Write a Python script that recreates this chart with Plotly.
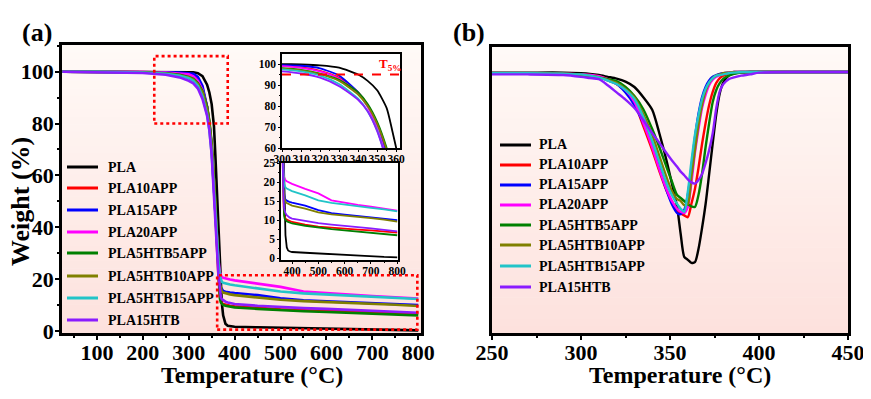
import plotly.graph_objects as go

W, H = 871, 399

# ---------------- data ----------------
series_names = ["PLA", "PLA10APP", "PLA15APP", "PLA20APP",
                "PLA5HTB5APP", "PLA5HTB10APP", "PLA5HTB15APP", "PLA15HTB"]
series_colors = ["#000000", "#ff0000", "#0000ff", "#ff00ff",
                 "#008000", "#808000", "#22c4c8", "#8a1cff"]

# TGA: temperature (°C) and weight (%)
T_tga = [25, 100, 200, 250, 280, 300, 310, 320, 330, 340, 345, 350, 355, 358, 360, 362,
         365, 368, 370, 372, 375, 380, 385, 390, 400, 450, 500, 550, 600, 650, 700, 750, 800]
w_PLA = [100, 100, 100, 100, 100, 100, 99.8, 99.4, 98.3, 95, 92, 87.5, 79, 68, 60, 52,
         38, 25, 17, 11, 6, 2.8, 2.0, 1.8, 1.6, 1.4, 1.2, 1.0, 0.8, 0.6, 0.4, 0.3, 0.2]
w_PLA10APP = [100, 100, 99.9, 99.7, 99.4, 99, 98.4, 96.8, 93.5, 86.5, 80.5, 71.5, 57.5, 46, 38, 30,
              20, 13.5, 11.5, 10.8, 10.4, 10.1, 9.9, 9.7, 9.5, 8.8, 8.3, 8.0, 7.7, 7.5, 7.3, 7.0, 6.7]
w_PLA15APP = [100, 100, 99.9, 99.8, 99.7, 99.5, 99.2, 98, 94.5, 86.5, 80, 70.5, 57, 47, 40, 33,
              24, 18.5, 16.8, 16, 15.4, 15.1, 14.9, 14.8, 14.6, 13.8, 12.6, 11.8, 11.4, 11.0, 10.7, 10.3, 10.0]
w_PLA20APP = [100, 100, 99.9, 99.7, 99.4, 99, 98.2, 96.5, 93, 86, 79.5, 70, 55, 46, 40, 34,
              27, 22.5, 21.3, 20.8, 20.5, 20.2, 20.0, 19.8, 19.5, 18.2, 17.0, 15.2, 14.5, 14.0, 13.5, 13.0, 12.5]
w_PLA5HTB5APP = [100, 100, 99.8, 99.4, 98.8, 98, 97.2, 95.5, 92.5, 86.5, 81, 72.5, 60, 50, 42, 33,
                 20, 12.5, 11, 10.4, 10, 9.7, 9.5, 9.3, 9.1, 8.5, 8.0, 7.6, 7.3, 7.0, 6.7, 6.3, 6.0]
w_PLA5HTB10APP = [100, 100, 99.8, 99.3, 98.6, 97.8, 97, 95.2, 92, 85.5, 80, 71.5, 59, 49, 41, 33,
                  24, 18, 16, 15.2, 14.8, 14.5, 14.3, 14.1, 13.8, 13.0, 12.0, 11.5, 11.2, 10.9, 10.5, 10.1, 9.6]
w_PLA5HTB15APP = [100, 100, 99.7, 99.2, 98.4, 97.5, 96.5, 94.5, 90.5, 83.5, 77.5, 68.5, 54, 45, 39, 33,
                  26, 21, 19.5, 19, 18.6, 18.3, 18.1, 17.9, 17.6, 16.5, 15.2, 14.5, 14.0, 13.6, 13.2, 12.8, 12.3]
w_PLA15HTB = [100, 99.9, 99.5, 98.8, 97.8, 96.5, 95.5, 93.5, 89.5, 83, 77.5, 68, 54, 44, 37, 30,
              21, 15, 13, 12.3, 11.8, 11.3, 11, 10.7, 10.4, 9.7, 9.2, 8.8, 8.5, 8.2, 7.8, 7.4, 7.0]
tga_values = [w_PLA, w_PLA10APP, w_PLA15APP, w_PLA20APP,
              w_PLA5HTB5APP, w_PLA5HTB10APP, w_PLA5HTB15APP, w_PLA15HTB]

# DTG: temperature (°C) and derivative weight (arb. units)
T_dtg = [250, 270, 290, 300, 305, 310, 315, 320, 325, 330, 335, 340, 344, 348, 351, 354, 356, 358,
         360, 362, 364, 366, 368, 370, 372, 374, 376, 378, 380, 383, 386, 390, 395, 400, 420, 450]
d_PLA = [-0.01, -0.01, -0.01, -0.02, -0.03, -0.05, -0.08, -0.11, -0.16, -0.25, -0.42, -0.63, -1.02, -1.47, -1.85, -2.25, -2.7, -3.08,
         -3.13, -3.18, -3.17, -2.95, -2.6, -2.2, -1.7, -1.19, -0.7, -0.35, -0.17, -0.06, -0.02, -0.01, 0, 0, 0, 0]
d_PLA10APP = [-0.02, -0.02, -0.03, -0.04, -0.05, -0.07, -0.12, -0.2, -0.32, -0.52, -0.9, -1.3, -1.65, -1.97, -2.15, -2.3, -2.36, -2.39,
              -2.42, -2.2, -1.95, -1.6, -1.2, -0.85, -0.55, -0.33, -0.18, -0.1, -0.06, -0.03, -0.01, 0, 0, 0, 0, 0]
d_PLA15APP = [-0.02, -0.02, -0.03, -0.05, -0.06, -0.08, -0.14, -0.2, -0.34, -0.55, -0.85, -1.2, -1.6, -1.97, -2.2, -2.35, -2.37, -2.3,
              -2.05, -1.6, -1.1, -0.7, -0.42, -0.25, -0.14, -0.08, -0.05, -0.03, -0.02, -0.01, 0, 0, 0, 0, 0, 0]
d_PLA20APP = [-0.02, -0.02, -0.03, -0.04, -0.05, -0.07, -0.12, -0.19, -0.3, -0.5, -0.85, -1.25, -1.62, -1.95, -2.15, -2.28, -2.33, -2.35,
              -2.25, -1.85, -1.35, -0.95, -0.6, -0.38, -0.22, -0.13, -0.08, -0.05, -0.03, -0.01, 0, 0, 0, 0, 0, 0]
d_PLA5HTB5APP = [-0.02, -0.02, -0.03, -0.05, -0.07, -0.09, -0.12, -0.15, -0.25, -0.4, -0.62, -0.95, -1.25, -1.58, -1.82, -2.05, -2.1, -2.15,
                 -2.2, -2.24, -2.25, -2.05, -1.7, -1.25, -0.85, -0.5, -0.3, -0.18, -0.11, -0.06, -0.03, -0.01, 0, 0, 0, 0]
d_PLA5HTB10APP = [-0.02, -0.02, -0.03, -0.05, -0.07, -0.09, -0.13, -0.18, -0.28, -0.42, -0.7, -1.05, -1.4, -1.75, -1.98, -2.12, -2.15, -2.22,
                  -2.2, -1.75, -1.3, -0.88, -0.55, -0.32, -0.18, -0.1, -0.06, -0.04, -0.02, -0.01, 0, 0, 0, 0, 0, 0]
d_PLA5HTB15APP = [-0.02, -0.02, -0.03, -0.04, -0.06, -0.09, -0.14, -0.2, -0.3, -0.45, -0.75, -1.15, -1.5, -1.85, -2.05, -2.2, -2.28, -2.33,
                  -2.0, -1.5, -1.05, -0.72, -0.45, -0.28, -0.17, -0.1, -0.06, -0.05, -0.04, -0.02, -0.01, 0, 0, 0, 0, 0]
d_PLA15HTB = [-0.04, -0.04, -0.05, -0.08, -0.1, -0.12, -0.22, -0.34, -0.46, -0.6, -0.8, -1.02, -1.18, -1.35, -1.47, -1.58, -1.66, -1.72,
              -1.79, -1.84, -1.86, -1.8, -1.7, -1.52, -1.3, -1.02, -0.6, -0.32, -0.2, -0.12, -0.09, -0.06, -0.04, -0.01, 0, 0]
dtg_values = [d_PLA, d_PLA10APP, d_PLA15APP, d_PLA20APP,
              d_PLA5HTB5APP, d_PLA5HTB10APP, d_PLA5HTB15APP, d_PLA15HTB]

main_x_ticks = [100, 200, 300, 400, 500, 600, 700, 800]
main_y_ticks = [0, 20, 40, 60, 80, 100]
b_x_ticks = [250, 300, 350, 400, 450]

# ---------------- helpers ----------------
FONT = "Liberation Serif"
OX, OY = 8, 8  # page body margin offset


def px_x(p):
    return (p - OX) / W


def px_y(p):
    return 1 - (p - OY) / H


fig = go.Figure()

for name, col, vals in zip(series_names, series_colors, tga_values):
    fig.add_trace(go.Scatter(x=T_tga, y=vals, mode="lines", name=name,
                             line=dict(color=col, width=2.6), xaxis="x", yaxis="y",
                             showlegend=False))
for name, col, vals in zip(series_names, series_colors, tga_values):
    fig.add_trace(go.Scatter(x=T_tga, y=vals, mode="lines", name=name,
                             line=dict(color=col, width=1.8, shape="spline", smoothing=0.6),
                             xaxis="x2", yaxis="y2", showlegend=False))
for name, col, vals in zip(series_names, series_colors, tga_values):
    fig.add_trace(go.Scatter(x=T_tga, y=vals, mode="lines", name=name,
                             line=dict(color=col, width=1.8), xaxis="x3", yaxis="y3",
                             showlegend=False))
for name, col, vals in zip(series_names, series_colors, dtg_values):
    fig.add_trace(go.Scatter(x=T_dtg, y=vals, mode="lines", name=name,
                             line=dict(color=col, width=2.4, shape="spline", smoothing=0.7),
                             xaxis="x4", yaxis="y4", showlegend=False))

# ---------------- layout / axes ----------------
dom_a_x = [px_x(62), px_x(421)]
dom_a_y = [px_y(333), px_y(45)]
dom_i1_x = [px_x(282), px_x(400)]
dom_i1_y = [px_y(148), px_y(54)]
dom_i2_x = [px_x(281), px_x(398)]
dom_i2_y = [px_y(260), px_y(163)]
dom_b_x = [px_x(492), px_x(848)]
dom_b_y = [px_y(333), px_y(47)]

big_tick = dict(family=FONT, size=22, color="black", weight="bold")
small_tick = dict(family=FONT, size=11.5, color="black", weight="bold")

common_main = dict(showline=True, linecolor="black", linewidth=2.6, mirror=True,
                   ticks="outside", ticklen=4, tickwidth=2, tickcolor="black",
                   showgrid=False, zeroline=False, tickfont=big_tick, automargin=False,
                   tickangle=0)
common_inset = dict(showline=True, linecolor="black", linewidth=1.6, mirror=True,
                    ticks="outside", ticklen=2, tickwidth=1.3, tickcolor="black",
                    showgrid=False, zeroline=False, tickfont=small_tick, automargin=False,
                    tickangle=0)

fig.update_layout(
    width=W, height=H, margin=dict(l=0, r=0, t=0, b=0, pad=0, autoexpand=False),
    paper_bgcolor="white", plot_bgcolor="rgba(0,0,0,0)",
    xaxis=dict(domain=dom_a_x, anchor="y", range=[24, 806], tickvals=main_x_ticks,
               ticklabelstandoff=-6,
               minor=dict(ticks="outside", ticklen=2, tickwidth=1.5, dtick=50, tick0=0),
               **common_main),
    yaxis=dict(domain=dom_a_y, anchor="x", range=[-0.8, 110.3], tickvals=main_y_ticks,
               ticklabelstandoff=-3,
               minor=dict(ticks="outside", ticklen=2, tickwidth=1.5, dtick=10, tick0=0),
               **common_main),
    xaxis2=dict(domain=dom_i1_x, anchor="y2", range=[300, 362], dtick=10, tick0=300,
                ticklabelstandoff=-3,
                minor=dict(ticks="outside", ticklen=1.5, tickwidth=1, dtick=5, tick0=300),
                **common_inset),
    yaxis2=dict(domain=dom_i1_y, anchor="x2", range=[60, 104.8], dtick=10, tick0=60,
                minor=dict(ticks="outside", ticklen=1.5, tickwidth=1, dtick=5, tick0=60),
                **common_inset),
    xaxis3=dict(domain=dom_i2_x, anchor="y3", range=[358, 803], dtick=100, tick0=400,
                ticklabelstandoff=-3,
                minor=dict(ticks="outside", ticklen=1.5, tickwidth=1, dtick=50, tick0=400),
                **common_inset),
    yaxis3=dict(domain=dom_i2_y, anchor="x3", range=[-0.5, 25], dtick=5, tick0=0,
                minor=dict(ticks="outside", ticklen=1.5, tickwidth=1, dtick=2.5, tick0=0),
                **common_inset),
    xaxis4=dict(domain=dom_b_x, anchor="y4", range=[250, 450], tickvals=b_x_ticks,
                ticklabelstandoff=-6,
                minor=dict(ticks="outside", ticklen=2, tickwidth=1.5, dtick=25, tick0=250),
                **common_main),
    yaxis4=dict(domain=dom_b_y, anchor="x4", range=[-4.35, 0.417], showticklabels=False,
                showline=True, linecolor="black", linewidth=2.6, mirror=True, ticks="",
                showgrid=False, zeroline=False, automargin=False),
)

# ---------------- background gradients ----------------
shapes = []
top_col = (255, 250, 247)
bot_col = (253, 225, 221)
N = 40
for (x0, x1, y0, y1) in [(62, 421, 45, 333), (492, 848, 47, 333)]:
    for i in range(N):
        t = (i + 0.5) / N
        c = tuple(int(round(top_col[k] + (bot_col[k] - top_col[k]) * t)) for k in range(3))
        ya = y0 + (y1 - y0) * i / N
        yb = y0 + (y1 - y0) * (i + 1) / N + 0.6
        shapes.append(dict(type="rect", xref="paper", yref="paper", layer="below",
                           x0=px_x(x0), x1=px_x(x1), y0=px_y(min(yb, y1)), y1=px_y(ya),
                           line=dict(width=0), fillcolor="rgb(%d,%d,%d)" % c))
for (x0, x1, y0, y1) in [(282, 400, 54, 148), (281, 398, 163, 260)]:
    shapes.append(dict(type="rect", xref="paper", yref="paper", layer="below",
                       x0=px_x(x0), x1=px_x(x1), y0=px_y(y1), y1=px_y(y0),
                       line=dict(width=0), fillcolor="white"))

shapes.append(dict(type="rect", xref="x", yref="y", x0=225, x1=385, y0=80, y1=106,
                   line=dict(color="red", width=2.6, dash="dot")))
shapes.append(dict(type="rect", xref="x", yref="y", x0=362, x1=798, y0=0.5, y1=21.5,
                   line=dict(color="red", width=2.6, dash="dot")))
shapes.append(dict(type="line", xref="x2", yref="y2", x0=300, x1=362, y0=95, y1=95,
                   line=dict(color="red", width=2, dash="dash")))

annotations = []


def txt(text, x, y, size, color="black", xanchor="center", angle=0):
    annotations.append(dict(text=text, x=px_x(x), y=px_y(y), xref="paper", yref="paper",
                            showarrow=False, xanchor=xanchor, yanchor="middle",
                            textangle=angle,
                            font=dict(family=FONT, size=size, color=color, weight="bold")))


leg_a_y = [167, 188, 210, 232, 253, 276, 298, 320]
leg_b_y = [145, 165, 185, 205, 225, 245, 266, 287]
for name, col, ya, yb in zip(series_names, series_colors, leg_a_y, leg_b_y):
    shapes.append(dict(type="line", xref="paper", yref="paper", x0=px_x(67), x1=px_x(98),
                       y0=px_y(ya), y1=px_y(ya), line=dict(color=col, width=3)))
    txt(name, 106, ya, 14, xanchor="left")
    shapes.append(dict(type="line", xref="paper", yref="paper", x0=px_x(500), x1=px_x(531),
                       y0=px_y(yb), y1=px_y(yb), line=dict(color=col, width=3)))
    txt(name, 537, yb, 14, xanchor="left")

txt("(a)", 37, 33, 26)
txt("(b)", 469, 33, 26)
txt("Temperature (°C)", 252, 375, 24)
txt("Temperature (°C)", 680, 375, 24)
txt("Weight (%)", 20, 202, 26, angle=-90)
annotations.append(dict(text="T<sub>5%</sub>", x=356.5, y=99.6, xref="x2", yref="y2",
                        showarrow=False, xanchor="center", yanchor="middle",
                        font=dict(family=FONT, size=13, color="red", weight="bold")))

fig.update_layout(shapes=shapes, annotations=annotations)

fig.write_html("out.html")
